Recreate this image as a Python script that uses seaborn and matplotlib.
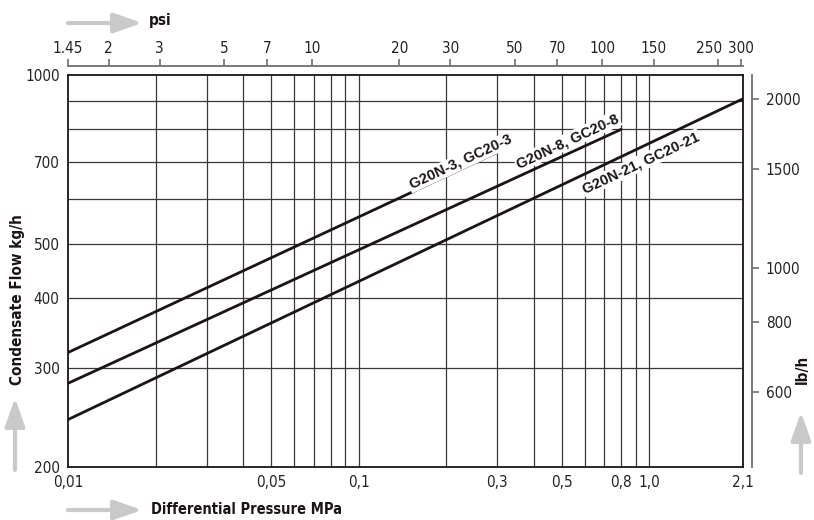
import numpy as np
import pandas as pd
import seaborn as sns
import matplotlib.pyplot as plt
import matplotlib.transforms as mtransforms
from matplotlib.ticker import FixedLocator, NullLocator, FixedFormatter, NullFormatter

# data (MPa -> kg/h), straight lines on log-log
dp_g3 = [0.01, 0.3]
flow_g3 = [320, 728]
dp_g8 = [0.01, 0.8]
flow_g8 = [282, 800]
dp_g21 = [0.01, 2.1]
flow_g21 = [243, 907]
series_names = ['G20N-3, GC20-3', 'G20N-8, GC20-8', 'G20N-21, GC20-21']

x_ticks = [0.01, 0.05, 0.1, 0.3, 0.5, 0.8, 1.0, 2.1]
x_ticklabels = ['0,01', '0,05', '0,1', '0,3', '0,5', '0,8', '1,0', '2,1']
x_grid = [0.02, 0.03, 0.04, 0.05, 0.06, 0.07, 0.08, 0.09, 0.1,
          0.2, 0.3, 0.4, 0.5, 0.6, 0.7, 0.8, 0.9, 1.0]
y_ticks = [200, 300, 400, 500, 700, 1000]
y_grid = [300, 400, 500, 600, 700, 800, 900]
psi_ticks = [1.45, 2, 3, 5, 7, 10, 20, 30, 50, 70, 100, 150, 250, 300]
lbh_ticks = [600, 800, 1000, 1500, 2000]

MPA_TO_PSI = 145.0
KG_TO_LB = 2.2046

sns.set_style('white')
plt.rcParams['font.family'] = ['DejaVu Sans']
plt.rcParams['font.stretch'] = 'condensed'

df = pd.concat([
    pd.DataFrame({'dp': dp_g3, 'flow': flow_g3, 'model': series_names[0]}),
    pd.DataFrame({'dp': dp_g8, 'flow': flow_g8, 'model': series_names[1]}),
    pd.DataFrame({'dp': dp_g21, 'flow': flow_g21, 'model': series_names[2]}),
])

fig = plt.figure(figsize=(8.14, 5.2), dpi=100)
ax = fig.add_axes([68 / 814, 53 / 520, 675 / 814, 392 / 520])

sns.lineplot(data=df, x='dp', y='flow', units='model', estimator=None,
             color='#1a1414', lw=2.0, ax=ax, legend=False)

ax.set_xscale('log')
ax.set_yscale('log')
ax.set_xlim(0.01, 2.1)
ax.set_ylim(200, 1000)

ax.xaxis.set_major_locator(FixedLocator(x_ticks))
ax.xaxis.set_major_formatter(FixedFormatter(x_ticklabels))
ax.xaxis.set_minor_locator(FixedLocator(x_grid))
ax.xaxis.set_minor_formatter(NullFormatter())
ax.yaxis.set_major_locator(FixedLocator(y_ticks))
ax.yaxis.set_major_formatter(FixedFormatter([str(v) for v in y_ticks]))
ax.yaxis.set_minor_locator(FixedLocator(y_grid))
ax.yaxis.set_minor_formatter(NullFormatter())
ax.tick_params(which='both', length=0, labelsize=11, colors='#222222')
ax.tick_params(axis='x', pad=6)
ax.tick_params(axis='y', pad=6)

ax.grid(False)
for xv in x_grid:
    ax.axvline(xv, color='#3c3636', lw=0.9, zorder=0)
for yv in y_grid:
    ax.axhline(yv, color='#3c3636', lw=0.9, zorder=0)
for s in ax.spines.values():
    s.set_color('#1a1414')
    s.set_linewidth(1.3)
ax.set_xlabel('')
ax.set_ylabel('')

# top psi axis
top = ax.secondary_xaxis('top', functions=(lambda x: x * MPA_TO_PSI,
                                            lambda p: p / MPA_TO_PSI))
top.xaxis.set_major_locator(FixedLocator(psi_ticks))
top.xaxis.set_major_formatter(FixedFormatter([str(v) for v in psi_ticks]))
top.xaxis.set_minor_locator(NullLocator())
top.xaxis.set_minor_formatter(NullFormatter())
top.spines['top'].set_position(('outward', 6.5))
top.spines['top'].set_color('#6e6e6e')
top.spines['top'].set_linewidth(1.3)
top.tick_params(length=5, width=1.2, color='#6e6e6e', labelsize=11,
                labelcolor='#222222', pad=2)

# nudge the "250" label left so it clears "300", as in the original print
shift = mtransforms.ScaledTranslation(-9 / 100, 0, fig.dpi_scale_trans)
for lab in top.xaxis.get_majorticklabels():
    if lab.get_text() == '250':
        lab.set_transform(lab.get_transform() + shift)

# right lb/h axis
right = ax.secondary_yaxis('right', functions=(lambda y: y * KG_TO_LB,
                                                lambda l: l / KG_TO_LB))
right.yaxis.set_major_locator(FixedLocator(lbh_ticks))
right.yaxis.set_major_formatter(FixedFormatter([str(v) for v in lbh_ticks]))
right.yaxis.set_minor_locator(NullLocator())
right.yaxis.set_minor_formatter(NullFormatter())
right.spines['right'].set_position(('outward', 6.5))
right.spines['right'].set_color('#6e6e6e')
right.spines['right'].set_linewidth(1.3)
right.tick_params(length=5, width=1.2, color='#6e6e6e', labelsize=11,
                  labelcolor='#222222', pad=5)

# curve labels
label_pos = [(0.581, 0.778), (0.740, 0.831), (0.849, 0.776)]
for name, (tx, ty) in zip(series_names, label_pos):
    ax.text(tx, ty, name, transform=ax.transAxes, rotation=25,
            ha='center', va='center', fontsize=10.5, fontweight='bold',
            family=['Liberation Sans', 'DejaVu Sans'], fontstretch='normal',
            color='#1a1414',
            bbox=dict(facecolor='white', edgecolor='none', pad=0.8), zorder=3)

# axis titles with grey arrows
arrow_kw = dict(arrowstyle='-|>,head_length=1.7,head_width=0.6', lw=3.0,
                color='#c9c9c9', mutation_scale=10, shrinkA=0, shrinkB=0)
ax.annotate('', xy=(142, 497), xytext=(68, 497), xycoords='figure pixels',
            textcoords='figure pixels', arrowprops=arrow_kw)
fig.text(149 / 814, 499 / 520, 'psi', fontsize=11, fontweight='bold',
         va='center', ha='left', color='#1a1414')

ax.annotate('', xy=(142, 10), xytext=(68, 10), xycoords='figure pixels',
            textcoords='figure pixels', arrowprops=arrow_kw)
fig.text(151 / 814, 10 / 520, 'Differential Pressure MPa', fontsize=10.5,
         fontweight='bold', va='center', ha='left', color='#1a1414')

ax.annotate('', xy=(15, 122), xytext=(15, 50), xycoords='figure pixels',
            textcoords='figure pixels', arrowprops=arrow_kw)
fig.text(18 / 814, 135 / 520, 'Condensate Flow kg/h', fontsize=11,
         fontweight='bold', rotation=90,
         va='bottom', ha='center', color='#1a1414')

ax.annotate('', xy=(801, 108), xytext=(801, 47), xycoords='figure pixels',
            textcoords='figure pixels', arrowprops=arrow_kw)
fig.text(802 / 814, 136 / 520, 'lb/h', fontsize=11, fontweight='bold',
         rotation=90, va='bottom', ha='center', color='#1a1414')

fig.savefig('out.png', dpi=100)
